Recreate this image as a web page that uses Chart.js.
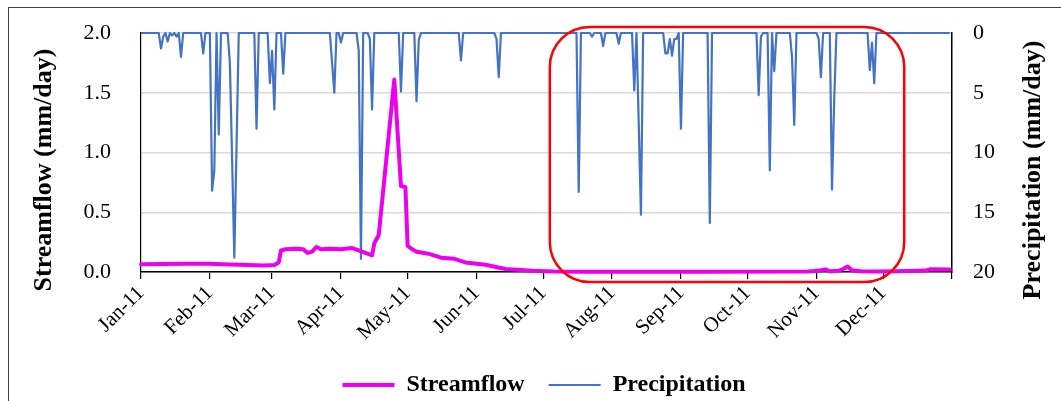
<!DOCTYPE html>
<html>
<head>
<meta charset="utf-8">
<script src="https://cdn.jsdelivr.net/npm/chart.js@4.4.1/dist/chart.umd.min.js"></script>
<style>
	html, body { margin: 0; padding: 0; background: #fff; }
</style>
</head>
<body>
<canvas id="chart" width="1061" height="401"></canvas>
<script>
"use strict";

// x axis: day of 2011 (0 = 1 Jan)
var monthStarts = [0, 31, 59, 90, 120, 151, 181, 212, 243, 273, 304, 334, 365];
var monthLabels = ['Jan-11', 'Feb-11', 'Mar-11', 'Apr-11', 'May-11', 'Jun-11',
	'Jul-11', 'Aug-11', 'Sep-11', 'Oct-11', 'Nov-11', 'Dec-11', ''];

// streamflow (mm/day), read at these days
var flowDays = [0, 10, 20, 30, 40, 48, 55, 60, 62, 63, 65, 70, 73, 75, 77, 79, 81, 85, 90, 95,
	98, 101, 104, 105, 107, 114, 117, 119, 120, 122, 124, 130, 135, 141, 146, 155, 164, 176, 186,
	200, 250, 300, 303, 306, 308, 310, 314, 316, 318, 320, 324, 330, 340, 350, 353, 355, 364];
var flowValues = [0.065, 0.066, 0.068, 0.068, 0.063, 0.058, 0.055, 0.058, 0.08, 0.18, 0.19, 0.195, 0.19, 0.16, 0.17, 0.21, 0.19, 0.195, 0.19, 0.2,
	0.18, 0.16, 0.14, 0.24, 0.31, 1.61, 0.72, 0.71, 0.22, 0.19, 0.17, 0.15, 0.12, 0.11, 0.08, 0.06, 0.025, 0.01, 0.004,
	0.003, 0.003, 0.004, 0.008, 0.015, 0.022, 0.006, 0.01, 0.025, 0.045, 0.015, 0.006, 0.005, 0.006, 0.01, 0.012, 0.022, 0.02];

// precipitation (mm/day), only the rainy days; every other day is 0
var rainDays = [9, 10, 12, 14, 16, 18, 28, 32, 33, 35, 40, 41, 42, 43, 52, 58, 59, 60, 64, 86, 87, 90,
	98, 99, 103, 104, 117, 124, 125, 144, 160, 161, 197, 203, 208, 215, 222, 224, 225, 236, 237, 238,
	239, 240, 241, 243, 256, 278, 279, 283, 285, 293, 294, 305, 306, 311, 312, 328, 329, 330];
var rainValues = [1.3, 0.3, 0.7, 0.2, 0.3, 2.0, 1.7, 13.2, 11.5, 8.5, 2.5, 10.5, 18.8, 9.5, 8.0, 4.2, 1.5, 6.4, 3.4, 2.5, 5.0, 0.8,
	1.5, 18.9, 0.5, 6.4, 4.9, 5.7, 0.6, 2.3, 0.5, 3.7, 13.3, 0.3, 1.1, 0.9, 4.8, 7.5, 15.2, 1.7, 1.7, 0.5,
	1.9, 0.5, 0.5, 8.0, 15.9, 5.2, 0.3, 11.5, 3.2, 2.0, 7.7, 0.5, 3.7, 13.1, 5.5, 3.1, 0.8, 4.2];

var flowTicks = [0, 0.5, 1.0, 1.5, 2.0];
var rainTicks = [0, 5, 10, 15, 20];

var leftTitle = 'Streamflow (mm/day)';
var rightTitle = 'Precipitation (mm/day)';

// highlighted period (days) drawn as a red rounded box
var highlightFrom = 184;
var highlightTo = 343.5;

var serif = "'Liberation Serif', 'Times New Roman', serif";
Chart.defaults.color = '#000';
Chart.defaults.font.family = serif;

function BuildFlowPoints() {
	var pts = [];
	for (var i = 0; i < flowDays.length; i++) {
		pts.push({ x: flowDays[i], y: flowValues[i] });
	}
	return pts;
}

function BuildRainPoints() {
	var pts = [];
	for (var d = 0; d < 365; d++) {
		var k = rainDays.indexOf(d);
		pts.push({ x: d, y: k >= 0 ? rainValues[k] : 0 });
	}
	return pts;
}

function RoundRect(ctx, x1, y1, x2, y2, r) {
	ctx.beginPath();
	ctx.moveTo(x1 + r, y1);
	ctx.lineTo(x2 - r, y1);
	ctx.arcTo(x2, y1, x2, y1 + r, r);
	ctx.lineTo(x2, y2 - r);
	ctx.arcTo(x2, y2, x2 - r, y2, r);
	ctx.lineTo(x1 + r, y2);
	ctx.arcTo(x1, y2, x1, y2 - r, r);
	ctx.lineTo(x1, y1 + r);
	ctx.arcTo(x1, y1, x1 + r, y1, r);
	ctx.closePath();
}

var decorations = {
	id: 'decorations',
	beforeDraw: function (chart) {
		var ctx = chart.ctx;
		ctx.save();
		ctx.fillStyle = '#fff';
		ctx.fillRect(0, 0, chart.width, chart.height);
		ctx.restore();
	},
	afterDraw: function (chart) {
		var ctx = chart.ctx;
		var area = chart.chartArea;
		var xs = chart.scales.x;
		ctx.save();

		// outer frame of the figure
		ctx.strokeStyle = '#404040';
		ctx.lineWidth = 1;
		ctx.strokeRect(8.5, 7.5, 1100, 500);

		// axis titles, both read bottom to top
		ctx.fillStyle = '#000';
		ctx.font = 'bold 26px ' + serif;
		ctx.textAlign = 'center';
		ctx.textBaseline = 'middle';
		var midY = 170;
		ctx.save();
		ctx.translate(44, midY);
		ctx.rotate(-Math.PI / 2);
		ctx.fillText(leftTitle, 0, 0);
		ctx.restore();
		ctx.save();
		ctx.translate(1033, midY);
		ctx.rotate(-Math.PI / 2);
		ctx.fillText(rightTitle, 0, 0);
		ctx.restore();

		// highlight box
		var x1 = xs.getPixelForValue(highlightFrom);
		var x2 = xs.getPixelForValue(highlightTo);
		var y1 = area.top - 6;
		var y2 = area.bottom + 10;
		ctx.strokeStyle = '#ff0000';
		ctx.lineWidth = 2.5;
		RoundRect(ctx, x1, y1, x2, y2, 40);
		ctx.stroke();
		ctx.restore();
	}
};

const context = document.getElementById('chart');
const myChart = new Chart(context, {
	type: 'line',
	data: {
		datasets: [{
			label: 'Streamflow',
			data: BuildFlowPoints(),
			yAxisID: 'yFlow',
			borderColor: '#ee00ee',
			backgroundColor: '#ee00ee',
			borderWidth: 4,
			pointRadius: 0,
			pointStyle: 'line',
			borderJoinStyle: 'round',
			borderCapStyle: 'round',
			clip: false
		}, {
			label: 'Precipitation',
			data: BuildRainPoints(),
			yAxisID: 'yRain',
			borderColor: '#4472c4',
			backgroundColor: '#4472c4',
			borderWidth: 2.2,
			pointRadius: 0,
			pointStyle: 'line',
			borderJoinStyle: 'round',
			clip: false
		}]
	},
	plugins: [decorations],
	options: {
		responsive: false,
		animation: false,
		layout: { padding: { left: 27, top: 33, right: 0, bottom: -6 } },
		plugins: {
			tooltip: { enabled: false },
			legend: {
				position: 'bottom',
				labels: {
					usePointStyle: true,
					pointStyleWidth: 52,
					padding: 24,
					font: { size: 24, weight: 'bold', family: serif },
					color: '#000'
				}
			}
		},
		scales: {
			x: {
				type: 'linear',
				min: 0,
				max: 365,
				afterBuildTicks: function (scale) {
					scale.ticks = monthStarts.map(function (v) { return { value: v }; });
				},
				afterFit: function (scale) { scale.height = 77; },
				ticks: {
					autoSkip: false,
					maxRotation: 45,
					minRotation: 45,
					padding: 2,
					font: { size: 21 },
					callback: function (value) { return monthLabels[monthStarts.indexOf(value)]; }
				},
				grid: { drawOnChartArea: false, color: '#000', tickLength: 7, lineWidth: 1.2 },
				border: { display: true, color: '#000', width: 1.5 }
			},
			yFlow: {
				position: 'left',
				min: 0,
				max: 2,
				afterBuildTicks: function (scale) {
					scale.ticks = flowTicks.map(function (v) { return { value: v }; });
				},
				afterFit: function (scale) { scale.width = 114; },
				ticks: {
					padding: 3,
					font: { size: 22 },
					callback: function (value) { return value.toFixed(1); }
				},
				grid: { color: '#d9d9d9', lineWidth: 1.5, tickLength: 27, tickColor: 'rgba(0,0,0,0)' },
				border: { display: true, color: '#000', width: 1.2 }
			},
			yRain: {
				position: 'right',
				reverse: true,
				min: 0,
				max: 20,
				afterBuildTicks: function (scale) {
					scale.ticks = rainTicks.map(function (v) { return { value: v }; });
				},
				afterFit: function (scale) { scale.width = 109; },
				ticks: { padding: 3, font: { size: 22 } },
				grid: { drawOnChartArea: false, tickLength: 18, tickColor: 'rgba(0,0,0,0)' },
				border: { display: true, color: '#000', width: 1.5 }
			}
		}
	}
});
</script>
</body>
</html>
